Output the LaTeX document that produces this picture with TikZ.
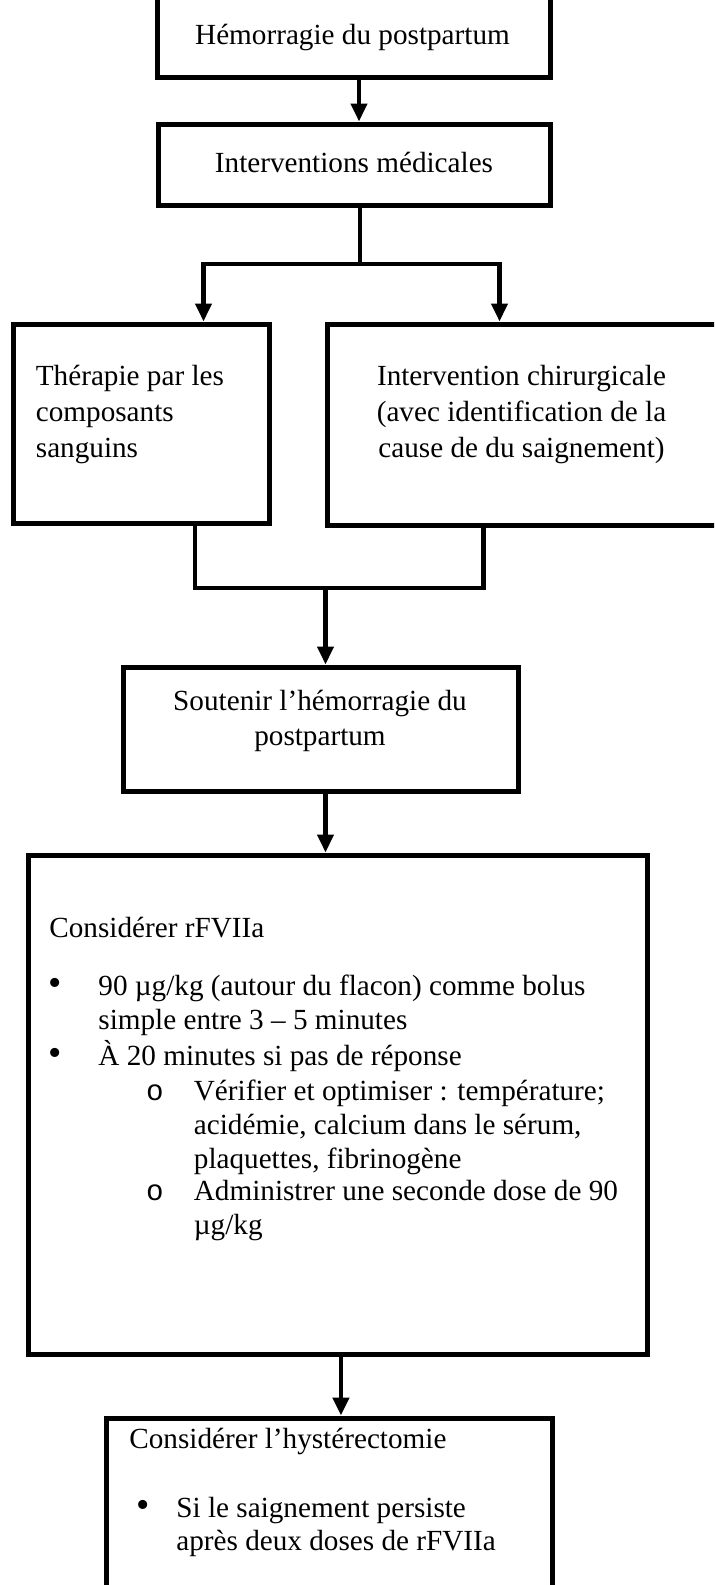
\documentclass[tikz,border=0pt]{standalone}
\usepackage{fontspec}
\setmainfont{Liberation Serif}
\newfontfamily\monofont{Liberation Mono}
\usepackage{tikz}
\usetikzlibrary{arrows.meta}
\usetikzlibrary{calc}
\usetikzlibrary{positioning}

\begin{document}
\begin{tikzpicture}[x=0.5pt,y=-0.5pt,line join=miter]
	\tikzstyle{box}=[draw=black, line width=2.5pt, fill=white, inner sep=0pt]
	\tikzstyle{txt}=[inner sep=0pt, font=\fontsize{14.6}{17.5}\selectfont]
	\tikzstyle{dot}=[inner sep=0pt, font=\fontsize{19}{19}\selectfont]
	\tikzstyle{line}=[draw=black, line width=2.2pt, line cap=rect]
	\tikzstyle{arr}=[line, line cap=butt, -{Triangle[width=8pt,length=9pt]}]
	\clip (0,0) rectangle (714,1585);

	% boxes
	\node[box, minimum width=196.5pt, minimum height=58.5pt]  (A) at (353.5,18.5) {};
	\node[box, minimum width=196pt,   minimum height=40.5pt]  (B) at (354,164.5) {};
	\node[box, minimum width=128pt,   minimum height=99.5pt]  (C) at (141,423.5) {};
	\node[box, minimum width=216.5pt, minimum height=100.5pt] (D) at (543.5,424.5) {};
	\node[box, minimum width=197.5pt, minimum height=62pt]    (E) at (320.5,729) {};
	\node[box, minimum width=309.75pt,minimum height=249.5pt] (F) at (337.75,1104.5) {};
	\node[box, minimum width=223pt,   minimum height=111pt]   (G) at (329,1529) {};

	% texts (base = baseline of the last line)
	\node[txt, anchor=base] (a) at (352.5,44) {Hémorragie du postpartum};
	\node[txt, anchor=base] (b) at (354,172) {Interventions médicales};
	\node[txt, anchor=base west, align=left, font=\fontsize{14.6}{18}\selectfont] (c) at (35.5,457)
		{Thérapie par les\\composants\\sanguins};
	\node[txt, anchor=base, align=center, font=\fontsize{14.6}{18}\selectfont] (d) at (521.5,457)
		{Intervention chirurgicale\\(avec identification de la\\cause de du saignement)};
	\node[txt, anchor=base, align=center] (e) at (320,745)
		{Soutenir l’hémorragie du\\postpartum};

	\node[txt, anchor=base west] (f0) at (49,937) {Considérer rFVIIa};
	\node[dot, anchor=base] (f1b) at (55.6,995) {\textbullet};
	\node[txt, anchor=base west, align=left, font=\fontsize{14.6}{17}\selectfont] (f1) at (98,1029)
		{90 µg/kg (autour du flacon) comme bolus\\simple entre 3 – 5 minutes};
	\node[dot, anchor=base] (f2b) at (55.6,1065) {\textbullet};
	\node[txt, anchor=base west] (f2) at (98,1065) {À 20 minutes si pas de réponse};
	\node[txt, anchor=base] (f3b) at (155,1100) {\monofont o};
	\node[txt, anchor=base west, align=left, font=\fontsize{14.6}{17}\selectfont] (f3) at (193.5,1168)
		{Vérifier et optimiser : température;\\acidémie, calcium dans le sérum,\\plaquettes, fibrinogène};
	\node[txt, anchor=base] (f4b) at (155,1200) {\monofont o};
	\node[txt, anchor=base west, align=left, font=\fontsize{14.6}{17}\selectfont] (f4) at (193.5,1234)
		{Administrer une seconde dose de 90\\µg/kg};

	\node[txt, anchor=base west] (g0) at (129,1448) {Considérer l’hystérectomie};
	\node[dot, anchor=base] (g1b) at (143,1517) {\textbullet};
	\node[txt, anchor=base west, align=left, font=\fontsize{14.6}{16.5}\selectfont] (g1) at (176,1550)
		{Si le saignement persiste\\après deux doses de rFVIIa};

	% connectors
	\coordinate (b1) at (203.5,264);
	\coordinate (b2) at (499.5,264);
	\coordinate (m1) at (195,588);
	\coordinate (m2) at (483.6,588);

	\draw[arr] ([xshift=2.75pt]A.south) -- ([xshift=2.75pt]A.south |- B.north);
	\draw[line] ([xshift=3pt]B.south) -- ([xshift=3pt]B.south |- b1);
	\draw[arr, {Triangle[width=8pt,length=9pt]}-{Triangle[width=8pt,length=9pt]}]
		(b1 |- C.north) -- (b1) -- (b2) -- (b2 |- D.north);
	\draw[line, line cap=butt] (m1 |- C.south) -- (m1) -- (m2) -- (m2 |- D.south);
	\draw[arr] ([xshift=2.5pt]E.north |- m1) -- ([xshift=2.5pt]E.north);
	\draw[arr] ([xshift=2.5pt]E.south) -- ([xshift=2.5pt]E.south |- F.north);
	\draw[arr] ([xshift=1.6pt]F.south) -- ([xshift=1.6pt]F.south |- G.north);
\end{tikzpicture}
\end{document}
